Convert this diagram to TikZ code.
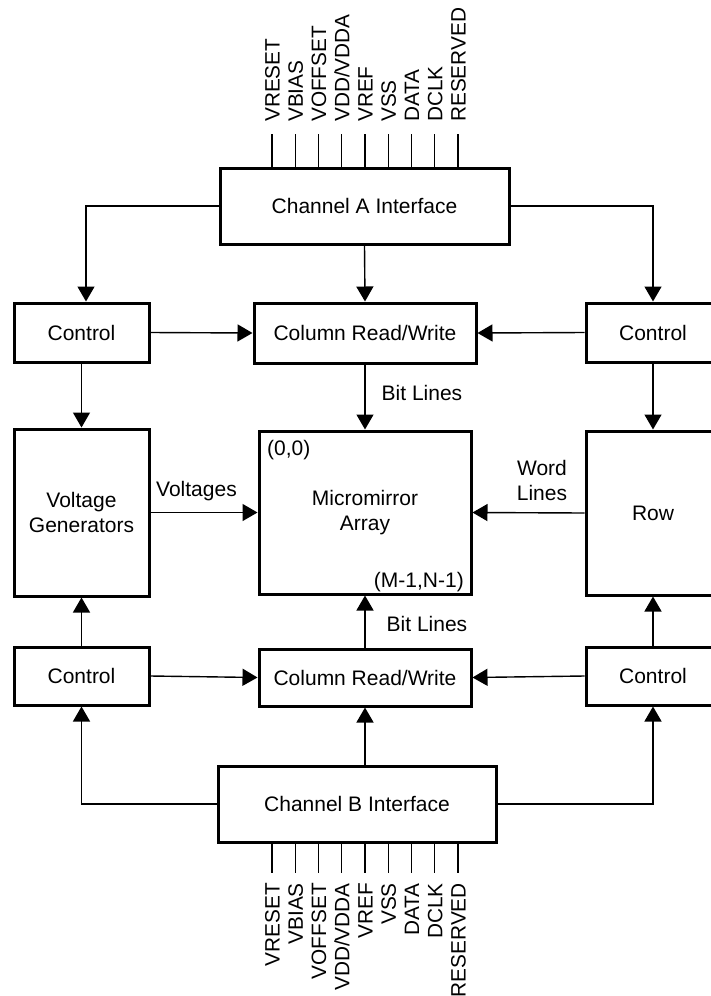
\documentclass[tikz,border=0pt]{standalone}
\usepackage{fontspec}
\setmainfont{Liberation Sans}
\usetikzlibrary{arrows.meta,calc}
\tikzset{
  box/.style={draw=black, line width=3pt, fill=white, inner sep=0pt, align=center,
    font=\fontsize{21}{25}\selectfont},
  conn/.style={draw=black, line width=1.4pt},
  arr/.style={conn, -{Triangle[width=17pt 0 0,length=15pt 0 0]}},
  lbl/.style={inner sep=0pt, align=center, font=\fontsize{21}{25}\selectfont},
  pinlbl/.style={inner sep=0pt, rotate=90, text height=15pt, text depth=0pt,
    font=\fontsize{20.8}{25}\selectfont},
}
\begin{document}
\begin{tikzpicture}[x=1pt,y=-1pt]
\useasboundingbox (0,0) rectangle (711,996);
% boxes
\node[box, minimum width=289pt, minimum height=76pt] (chA) at (364.5,206) {Channel A Interface};
\node[box, minimum width=135pt, minimum height=59pt] (ctlTL) at (81.5,332.5) {Control};
\node[box, minimum width=222pt, minimum height=60pt] (colT) at (365,333) {Column Read/Write};
\node[box, minimum width=134pt, minimum height=59pt] (ctlTR) at (653,332.5) {Control};
\node[box, minimum width=135pt, minimum height=167pt] (vg) at (81.5,512.5) {Voltage\\Generators};
\node[box, minimum width=212pt, minimum height=163pt] (mm) at (365,512.5) {Micromirror\\Array};
\node[box, minimum width=134pt, minimum height=164pt] (row) at (653,513) {Row};
\node[box, minimum width=135pt, minimum height=58pt] (ctlBL) at (81.5,676) {Control};
\node[box, minimum width=212pt, minimum height=57pt] (colB) at (365,677.5) {Column Read/Write};
\node[box, minimum width=134pt, minimum height=58pt] (ctlBR) at (653,676) {Control};
\node[box, minimum width=278pt, minimum height=76pt] (chB) at (357,804) {Channel B Interface};
% inner labels
\node[lbl, anchor=west] (origin) at (267,450) {(0,0)};
\node[lbl, anchor=east] (corner) at (464,582) {(M-1,N-1)};
% connectors
\draw[arr] (chA.west) -| ([xshift=4.5pt]ctlTL.north);
\draw[arr] (chA.east) -| (ctlTR.north);
\draw[arr] (chA.south) -- (colT.north);
\draw[arr] (ctlTL.east) -- (colT.west);
\draw[arr] (ctlTR.west) -- (colT.east);
\draw[arr] (colT.south) -- (mm.north);
\draw[arr] (ctlTL.south) -- (vg.north);
\draw[arr] (ctlTR.south) -- (row.north);
\draw[arr] (vg.east) -- (mm.west);
\draw[arr] (row.west) -- (mm.east);
\draw[arr] (colB.north) -- (mm.south);
\draw[arr] (ctlBL.north) -- (vg.south);
\draw[arr] (ctlBR.north) -- (row.south);
\draw[arr] (ctlBL.east) -- (colB.west);
\draw[arr] (ctlBR.west) -- (colB.east);
\draw[arr] (colB.south |- chB.north) -- (colB.south);
\draw[arr] (chB.west) -| (ctlBL.south);
\draw[arr] (chB.east) -| (ctlBR.south);
% connector labels
\node[lbl] (bl1) at (422,393) {Bit Lines};
\node[lbl] (bl2) at (427,624) {Bit Lines};
\node[lbl] (volt) at (196.5,491) {Voltages};
\node[lbl] (wl) at (542,480) {Word\\Lines};
% pins
\foreach \n [count=\i from 0] in {VRESET,VBIAS,VOFFSET,VDD/VDDA,VREF,VSS,DATA,DCLK,RESERVED}{
  \coordinate (pt\i) at ({272+\i*23.25},134);
  \draw[conn] (pt\i |- chA.north) -- (pt\i);
  \node[pinlbl, anchor=west] (lt\i) at ({272+\i*23.25},122) {\n};
  \coordinate (pb\i) at ({272+\i*23.25},873);
  \draw[conn] (pb\i |- chB.south) -- (pb\i);
  \node[pinlbl, anchor=east] (lb\i) at ({272+\i*23.25},883) {\n};
}
\end{tikzpicture}
\end{document}
